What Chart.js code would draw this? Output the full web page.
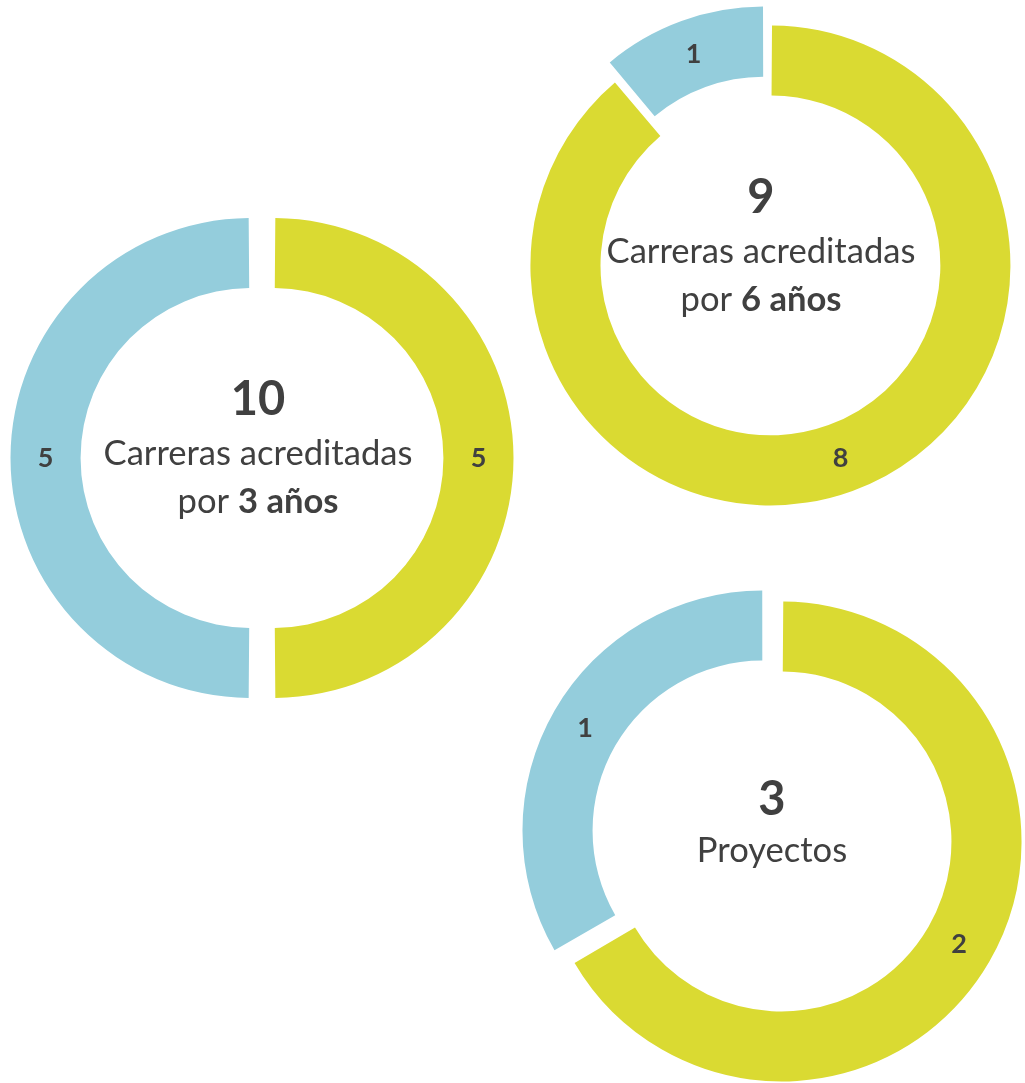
<!DOCTYPE html>
<html>
<head>
<meta charset="utf-8">
<script src="https://cdn.jsdelivr.net/npm/chart.js@4.4.1/dist/chart.umd.min.js"></script>
<style>
  html, body { margin: 0; padding: 0; background: #fff; width: 1025px; height: 1083px; overflow: hidden; }
  .dona { position: absolute; width: 520px; height: 520px; }
</style>
</head>
<body>
<div class="dona" style="left:1.5px; top:198px;"><canvas id="dona1" width="520" height="520"></canvas></div>
<div class="dona" style="left:507px; top:-4px;"><canvas id="dona2" width="520" height="520"></canvas></div>
<div class="dona" style="left:512px; top:576px;"><canvas id="dona3" width="520" height="520"></canvas></div>
<script>
// categorias y valores de cada dona
const categorias = ['Acreditadas', 'Otras'];
const valores3anos = [5, 5];
const valores6anos = [8, 1];
const valoresProyectos = [2, 1];
const descripciones = ['Carreras acreditadas', 'Carreras acreditadas', 'Proyectos'];
const periodos = ['3 años', '6 años', null];

const colores = ['#DADA32', '#94CDDC'];
const gris = '#404040';
const fuente = 'Lato';

// Chart.js agranda el radio de un arco con offset; lo devolvemos a su sitio
const sinCrecer = {
  id: 'sinCrecer',
  beforeDatasetDraw(chart, args) {
    args.meta.data.forEach(arc => {
      const desp = (arc.options.offset || 0) / 4;
      const fix = 1 - Math.sin(Math.min(Math.PI, arc.circumference));
      arc.$ajuste = desp * fix;
      arc.outerRadius -= arc.$ajuste;
      arc.innerRadius -= arc.$ajuste;
    });
  },
  afterDatasetDraw(chart, args) {
    args.meta.data.forEach(arc => {
      arc.outerRadius += arc.$ajuste;
      arc.innerRadius += arc.$ajuste;
    });
  }
};

const etiquetas = {
  id: 'etiquetas',
  afterDatasetsDraw(chart) {
    const ctx = chart.ctx;
    const meta = chart.getDatasetMeta(0);
    const vals = chart.data.datasets[0].data;
    ctx.save();
    ctx.font = 'bold 27px ' + fuente;
    ctx.fillStyle = gris;
    ctx.textAlign = 'center';
    ctx.textBaseline = 'middle';
    meta.data.forEach((arc, i) => {
      const ang = (arc.startAngle + arc.endAngle) / 2;
      const r = (arc.innerRadius + arc.outerRadius) / 2 + (arc.options.offset || 0) / 4;
      ctx.fillText(String(vals[i]), arc.x + Math.cos(ang) * r, arc.y + Math.sin(ang) * r);
    });
    ctx.restore();
  }
};

const centro = {
  id: 'centro',
  afterDraw(chart, args, opts) {
    const ctx = chart.ctx;
    const meta = chart.getDatasetMeta(0);
    const cx = meta.data[0].x + opts.dx;
    const cy = meta.data[0].y;
    const total = chart.data.datasets[0].data.reduce((a, b) => a + b, 0);
    const normal = '34.6px ' + fuente, negrita = 'bold 34.6px ' + fuente;
    ctx.save();
    ctx.fillStyle = gris;
    ctx.textBaseline = 'alphabetic';
    ctx.textAlign = 'center';
    ctx.font = 'bold 47px ' + fuente;
    ctx.fillText(String(total), cx, cy + opts.lineas[0]);
    ctx.font = normal;
    ctx.fillText(opts.descripcion, cx, cy + opts.lineas[1]);
    if (opts.periodo) {
      ctx.textAlign = 'left';
      ctx.font = normal;
      const w1 = ctx.measureText('por ').width;
      ctx.font = negrita;
      const w2 = ctx.measureText(opts.periodo).width;
      const x0 = cx - (w1 + w2) / 2;
      ctx.font = normal;
      ctx.fillText('por ', x0, cy + opts.lineas[2]);
      ctx.font = negrita;
      ctx.fillText(opts.periodo, x0 + w1, cy + opts.lineas[2]);
    }
    ctx.restore();
  }
};

function dona(id, valores, desp, centroOpts) {
  const ctx = document.getElementById(id).getContext('2d');
  return new Chart(ctx, {
    type: 'doughnut',
    data: {
      labels: categorias,
      datasets: [{
        data: valores,
        backgroundColor: colores,
        borderWidth: 0,
        offset: desp * 4
      }]
    },
    options: {
      responsive: false,
      animation: false,
      events: [],
      radius: 240,
      cutout: '70.8%',
      layout: { padding: 0 },
      plugins: {
        legend: { display: false },
        tooltip: { enabled: false },
        centro: centroOpts
      }
    },
    plugins: [sinCrecer, etiquetas, centro]
  });
}

dona('dona1', valores3anos, 11.5, { dx: -4, lineas: [-43, 7, 55], descripcion: descripciones[0], periodo: periodos[0] });
dona('dona2', valores6anos, 10, { dx: -6, lineas: [-43, 7, 55], descripcion: descripciones[1], periodo: periodos[1] });
dona('dona3', valoresProyectos, 11, { dx: 0, lineas: [-21, 26], descripcion: descripciones[2], periodo: periodos[2] });
</script>
</body>
</html>
